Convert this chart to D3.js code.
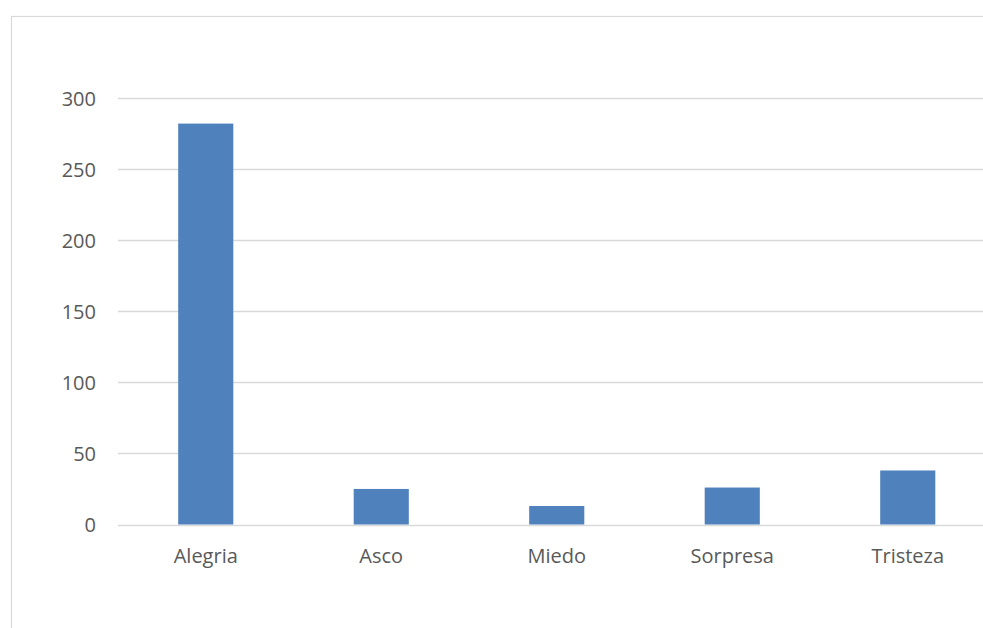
<!DOCTYPE html>
<meta charset="utf-8">
<script src="https://d3js.org/d3.v7.min.js"></script>
<style>
  body { margin: 0; background: #fff; }
  text { font-family: "Open Sans", "Liberation Sans", sans-serif; fill: #595959; }
</style>
<div id="chart"></div>
<script>

  // data
  var categories = ["Alegria", "Asco", "Miedo", "Sorpresa", "Tristeza"];
  var values = [282, 25, 13, 26, 38];
  var yTicks = [0, 50, 100, 150, 200, 250, 300];

  var W = 983, H = 628;
  var margin = {top: 98, left: 118, bottom: 103.5};

  var svg = d3.select("#chart").append("svg")
    .attr("width", W)
    .attr("height", H);

  // chart area border (runs off the right and bottom edges)
  svg.append("rect")
    .attr("x", 11.5).attr("y", 16.5)
    .attr("width", 1100).attr("height", 700)
    .attr("fill", "none")
    .attr("stroke", "#d9d9d9")
    .attr("stroke-width", 1.2);

  var x = d3.scaleBand()
    .domain(categories)
    .range([margin.left, margin.left + 5 * 175.5])
    .paddingInner(0.686)
    .paddingOuter(0.343);

  var y = d3.scaleLinear()
    .domain([0, 300])
    .range([H - margin.bottom, margin.top]);

  // gridlines
  svg.append("g")
    .selectAll("line")
    .data(yTicks)
    .enter().append("line")
      .attr("x1", margin.left)
      .attr("x2", W)
      .attr("y1", function(d) { return Math.round(y(d)) + 0.5; })
      .attr("y2", function(d) { return Math.round(y(d)) + 0.5; })
      .attr("stroke", "#d9d9d9")
      .attr("stroke-width", 1.3);

  // y axis labels
  var yAxis = svg.append("g")
    .attr("transform", "translate(" + (margin.left - 22) + ",0)")
    .call(d3.axisLeft(y).tickValues(yTicks).tickSize(0).tickPadding(0));
  yAxis.select(".domain").remove();
  yAxis.selectAll("text")
    .style("font-size", "20px")
    .attr("fill", "#595959")
    .attr("dy", "0.35em");

  // bars
  svg.selectAll("rect.bar")
    .data(values)
    .enter().append("rect")
      .attr("class", "bar")
      .attr("x", function(d, i) { return x(categories[i]); })
      .attr("y", function(d) { return y(d); })
      .attr("width", x.bandwidth())
      .attr("height", function(d) { return y(0) - y(d); })
      .attr("fill", "#4f81bd");

  // x axis labels
  var xAxis = svg.append("g")
    .attr("transform", "translate(0," + y(0) + ")")
    .call(d3.axisBottom(x).tickSize(0).tickPadding(24));
  xAxis.select(".domain").remove();
  xAxis.selectAll("text")
    .style("font-size", "20px")
    .attr("fill", "#595959");

</script>
